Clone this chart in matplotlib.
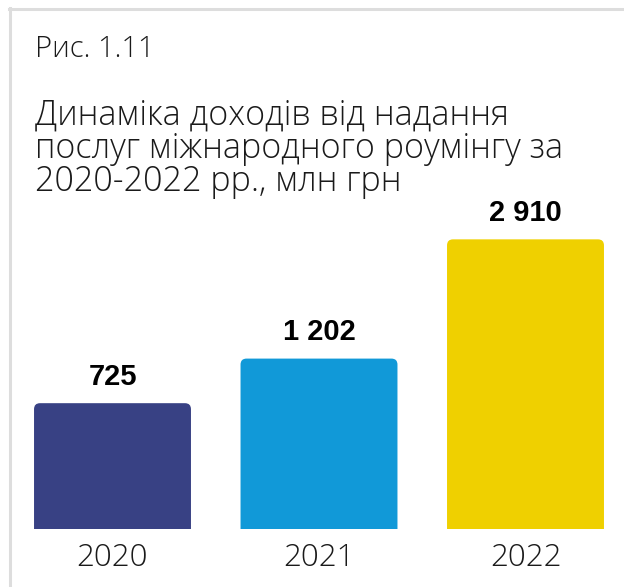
import numpy as np
import matplotlib.pyplot as plt
from matplotlib.patches import FancyBboxPatch
from matplotlib.transforms import IdentityTransform
from matplotlib.lines import Line2D

# Дані
years = ['2020', '2021', '2022']
values = [725, 1202, 2910]
labels = ['725', '1 202', '2 910']
colors = ['#384184', '#1199d8', '#efd000']

title_fig = 'Рис. 1.11'
title_lines = ['Динаміка доходів від надання',
               'послуг міжнародного роумінгу за',
               '2020-2022 рр., млн грн']

fig = plt.figure(figsize=(6.24, 5.87), dpi=100)
fig.patch.set_facecolor('white')

# рамка зверху і зліва
fig.add_artist(Line2D([9/624, 1], [1 - 9/587, 1 - 9/587], color='#dddddd', lw=2.2))
fig.add_artist(Line2D([10/624, 10/624], [0, 1 - 8/587], color='#dddddd', lw=2.2))

fig.text(35/624, 1 - 57/587, title_fig, fontsize=21, family='Open Sans',
         weight='light', color='#1a1a1a', va='baseline')
for i, line in enumerate(title_lines):
    fig.text(35/624, 1 - (125 + 33*i)/587, line, fontsize=24.5, family='Open Sans',
             weight='light', color='#1a1a1a', va='baseline')

ax = fig.add_axes([0, 58/587, 1, 295/587])
p = 0.6
ax.set_yscale('function', functions=(lambda v: np.power(np.clip(v, 0, None), p),
                                     lambda v: np.power(np.clip(v, 0, None), 1/p)))
x = np.arange(len(years))
bars = ax.bar(x, values, width=0.76, color=colors)
ax.set_xlim(-112.5/206.5, (624 - 112.5)/206.5)
ax.set_ylim(0, 3000)
ax.axis('off')

for xi, v, lab in zip(x, values, labels):
    ax.annotate(lab, (xi, v), xytext=(0, 9), textcoords='offset points',
                ha='center', va='bottom', fontsize=21, weight='bold',
                family='Liberation Sans', color='black', annotation_clip=False)
    ax.annotate(years[xi], (xi, 0), xytext=(0, -9), textcoords='offset points',
                ha='center', va='top', fontsize=22.5, weight='light',
                family='Open Sans', color='#1a1a1a', annotation_clip=False)

# округлені верхні кути
fig.canvas.draw()
r = 6
for b in bars:
    bb = b.get_window_extent()
    patch = FancyBboxPatch((bb.x0, bb.y0 - 2*r), bb.width, bb.height + 2*r,
                           boxstyle='round,pad=0,rounding_size=%d' % r,
                           transform=IdentityTransform(), facecolor=b.get_facecolor(),
                           edgecolor='none')
    patch.set_clip_box(ax.bbox)
    fig.add_artist(patch)
    b.set_visible(False)

fig.savefig('out.png', dpi=100)
